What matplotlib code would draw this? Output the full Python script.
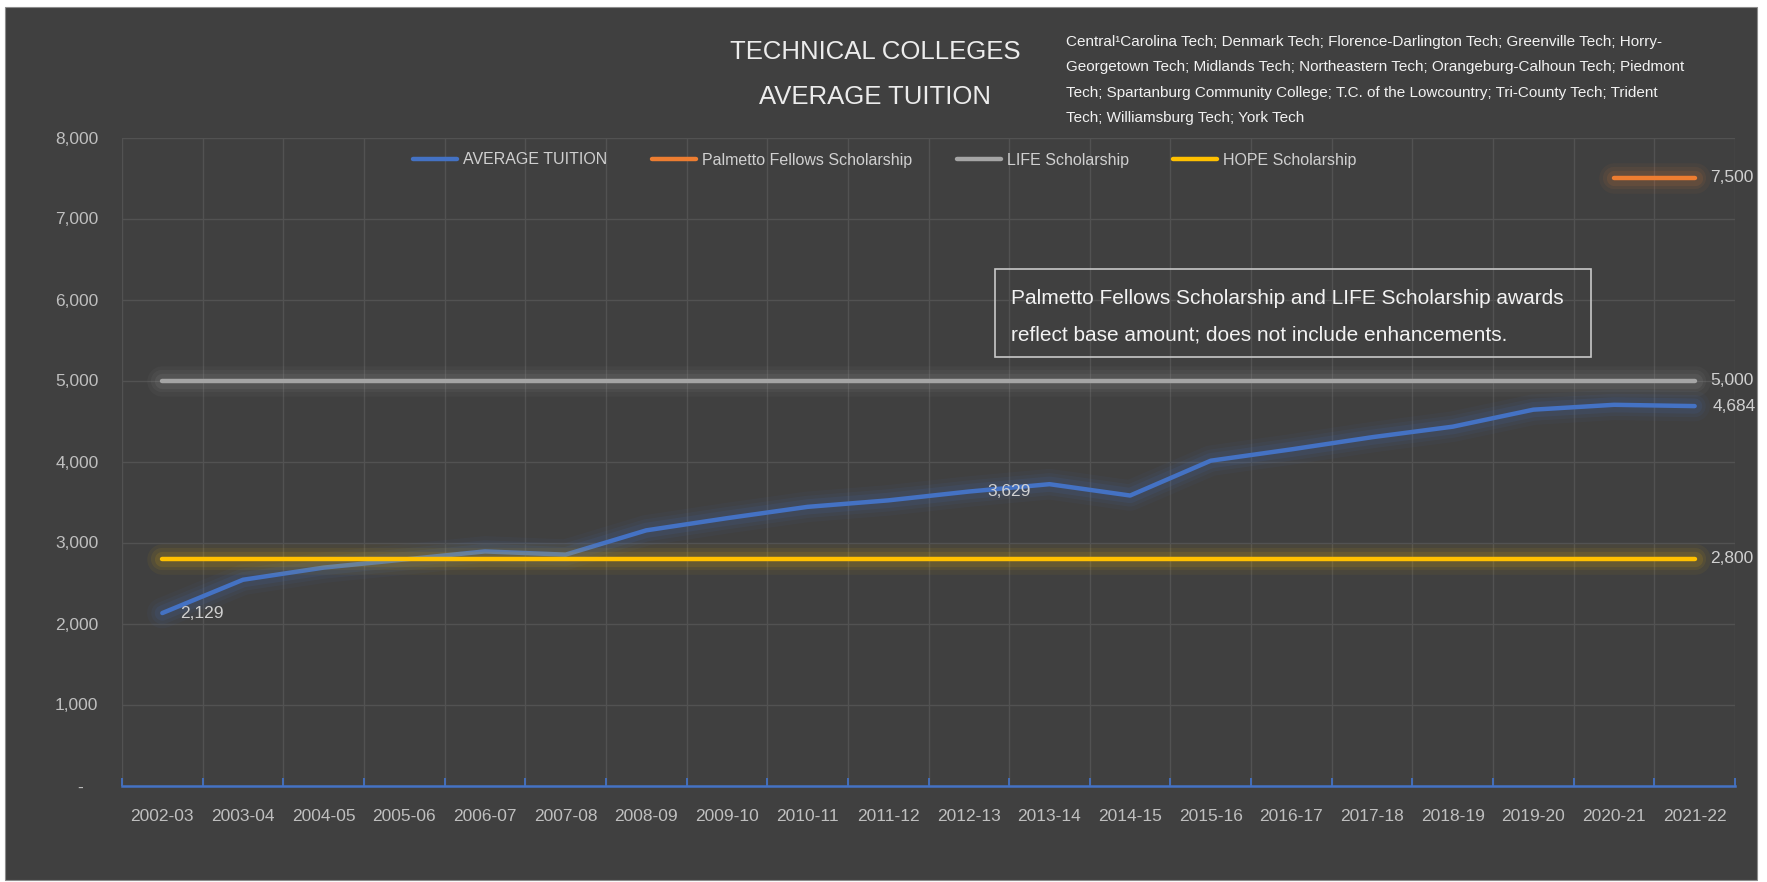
import numpy as np
import matplotlib
matplotlib.use("Agg")
import matplotlib.pyplot as plt
import matplotlib.patheffects as pe
from matplotlib.lines import Line2D
from matplotlib.patches import Rectangle
from matplotlib.ticker import FixedLocator

plt.rcParams['font.family'] = ['Liberation Sans', 'DejaVu Sans']

# data
years = ['2002-03', '2003-04', '2004-05', '2005-06', '2006-07', '2007-08', '2008-09',
         '2009-10', '2010-11', '2011-12', '2012-13', '2013-14', '2014-15', '2015-16',
         '2016-17', '2017-18', '2018-19', '2019-20', '2020-21', '2021-22']
tuition = [2129, 2540, 2690, 2790, 2890, 2850, 3150, 3300, 3440, 3520,
           3629, 3720, 3580, 4010, 4150, 4300, 4430, 4640, 4700, 4684]
palmetto = [np.nan] * 18 + [7500, 7500]
life = [5000] * 20
hope = [2800] * 20
labeled_points = [0, 10, 19]  # tuition points that carry a value label
y_ticks = [0, 1000, 2000, 3000, 4000, 5000, 6000, 7000, 8000]
y_tick_labels = ['-   ', '1,000', '2,000', '3,000', '4,000', '5,000', '6,000', '7,000', '8,000']

title_lines = ['TECHNICAL COLLEGES', 'AVERAGE TUITION']
colleges_lines = [
    'Central\u00b9Carolina Tech; Denmark Tech; Florence-Darlington Tech; Greenville Tech; Horry-',
    'Georgetown Tech; Midlands Tech; Northeastern Tech; Orangeburg-Calhoun Tech; Piedmont',
    'Tech; Spartanburg Community College; T.C. of the Lowcountry; Tri-County Tech; Trident',
    'Tech; Williamsburg Tech; York Tech',
]
note_lines = ['Palmetto Fellows Scholarship and LIFE Scholarship awards',
              'reflect base amount; does not include enhancements.']

BG = '#404040'
GRID = '#525252'
BLUE = '#4472C4'
ORANGE = '#ED7D31'
GRAY = '#A5A5A5'
YELLOW = '#FFC000'

W, H = 1767, 882


def fx(px):
    return px / W


def fy(py):
    return 1 - py / H


def glow(color):
    # soft halo like the Excel glow effect
    return [pe.Stroke(linewidth=w, foreground=color, alpha=a, capstyle='round')
            for w, a in [(22, 0.05), (16, 0.07), (11, 0.1)]] + [pe.Normal()]


fig = plt.figure(figsize=(W / 100, H / 100), dpi=100)
fig.patch.set_facecolor('white')
fig.add_artist(Rectangle((fx(5), fy(880)), fx(1757 - 5), (880 - 7) / H,
                         transform=fig.transFigure, facecolor=BG,
                         edgecolor='#8c8c8c', lw=0.8, zorder=0))

ax = fig.add_axes([fx(122), fy(785.5), fx(1735 - 122), (785.5 - 137.5) / H])
ax.set_facecolor('none')
x = np.arange(len(years))

series = [(tuition, BLUE), (palmetto, ORANGE), (life, GRAY), (hope, YELLOW)]
for vals, col in series:
    ax.plot(x, vals, color=col, lw=3.2, solid_capstyle='round',
            path_effects=glow(col), zorder=3)

ax.set_xlim(-0.5, len(years) - 0.5)
ax.set_ylim(0, 8000)

# gridlines: horizontal at ticks, vertical at category boundaries
ax.set_yticks(y_ticks)
ax.set_yticklabels(y_tick_labels)
ax.set_xticks(x)
ax.set_xticklabels(years)
ax.xaxis.set_minor_locator(FixedLocator(np.arange(-0.5, len(years), 1.0)))
ax.grid(axis='y', which='major', color=GRID, lw=1)
ax.grid(axis='x', which='minor', color=GRID, lw=1)
ax.set_axisbelow(True)

for s in ['top', 'right', 'left']:
    ax.spines[s].set_visible(False)
ax.spines['bottom'].set_color(BLUE)
ax.spines['bottom'].set_linewidth(1.8)
ax.spines['bottom'].set_zorder(4)

ax.tick_params(axis='y', length=0, pad=17, labelsize=12.5, labelcolor='#bfbfbf')
ax.tick_params(axis='x', which='major', length=0, pad=17, labelsize=12.5, labelcolor='#bfbfbf')
ax.tick_params(axis='x', which='minor', direction='in', length=6, width=1.3, color=BLUE)

# value labels
lab_kw = dict(fontsize=12.5, color='#d0d0d0', va='center', ha='left',
              textcoords='offset points', zorder=5)
for i in labeled_points:
    ax.annotate(f'{tuition[i]:,.0f}', (x[i], tuition[i]), xytext=(13, 0), **lab_kw)
last = len(years) - 1
for vals in [palmetto, life, hope]:
    ax.annotate(f'{vals[last]:,.0f}', (x[last], vals[last]), xytext=(11, 0), **lab_kw)

# titles
for line, py in zip(title_lines, [52, 97]):
    fig.text(fx(875), fy(py), line, ha='center', va='center', fontsize=18.5, color='#ececec')
for line, py in zip(colleges_lines, [41.7, 66.7, 93.3, 118.3]):
    fig.text(fx(1066), fy(py), line, ha='left', va='center', fontsize=11, color='#f2f2f2')

# note box
fig.add_artist(Rectangle((fx(995), fy(356.7)), fx(1591 - 995), (356.7 - 269.3) / H,
                         transform=fig.transFigure, fill=False, edgecolor='#c8c8c8', lw=1.2))
for line, py in zip(note_lines, [299, 335]):
    fig.text(fx(1011), fy(py), line, ha='left', va='center', fontsize=15, color='#f2f2f2')

# legend
handles = [Line2D([], [], color=c, lw=3.2, solid_capstyle='round') for c in [BLUE, ORANGE, GRAY, YELLOW]]
labels = ['AVERAGE TUITION', 'Palmetto Fellows Scholarship', 'LIFE Scholarship', 'HOPE Scholarship']
fig.legend(handles, labels, loc='center', bbox_to_anchor=(fx(885), fy(160)), ncol=4,
           frameon=False, fontsize=11.5, labelcolor='#d0d0d0', handlelength=2.75,
           handletextpad=0.37, columnspacing=2.8)

fig.savefig('out.png', dpi=100, facecolor=fig.get_facecolor())
